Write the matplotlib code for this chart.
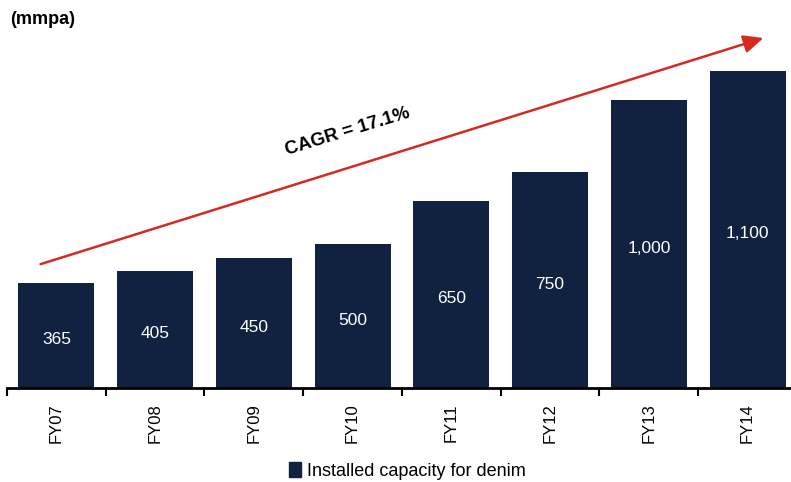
import matplotlib.pyplot as plt
from matplotlib.patches import Patch
import numpy as np

plt.rcParams['font.family'] = ['Liberation Sans', 'DejaVu Sans']

years = ['FY07', 'FY08', 'FY09', 'FY10', 'FY11', 'FY12', 'FY13', 'FY14']
capacity = [365, 405, 450, 500, 650, 750, 1000, 1100]
value_labels = ['365', '405', '450', '500', '650', '750', '1,000', '1,100']

bar_color = '#112140'
arrow_color = '#d42a20'

fig = plt.figure(figsize=(7.91, 4.82), dpi=100)
# axes runs past the right edge so the baseline reaches the border
ax = fig.add_axes([7 / 791, 94 / 482, 790 / 791, 386 / 482])

x = np.arange(len(years))
ax.bar(x, capacity, width=0.77, color=bar_color, zorder=2)
for xi, v, lab in zip(x, capacity, value_labels):
    ax.text(xi, v / 2 - 15, lab, color='white', ha='center', va='center', fontsize=12.5)

ax.set_xlim(-0.5, 7.5)
ax.set_ylim(0, 1340)

for s in ['top', 'right', 'left']:
    ax.spines[s].set_visible(False)
ax.spines['bottom'].set_linewidth(2)
ax.set_yticks([])
ax.set_xticks(x)
ax.set_xticklabels(years, rotation=90, fontsize=12)
ax.tick_params(axis='x', which='major', length=0, pad=11)
ax.set_xticks(np.arange(-0.5, 7.5, 1), minor=True)
ax.tick_params(axis='x', which='minor', length=6, width=1.5, direction='out')

# growth arrow
ax.annotate('', xy=(7.16, 1215), xytext=(-0.16, 430),
            arrowprops=dict(arrowstyle='-|>,head_length=1.2,head_width=0.55',
                            color=arrow_color, lw=1.8, shrinkA=0, shrinkB=0),
            annotation_clip=False)
ax.text(2.95, 890, 'CAGR = 17.1%', rotation=17, ha='center', va='center',
        fontsize=13.5, fontweight='bold')

fig.text(10 / 791, 1 - 20 / 482, '(mmpa)', fontsize=13, fontweight='bold', va='center')

fig.legend(handles=[Patch(color=bar_color, label='Installed capacity for denim')],
           loc='center', bbox_to_anchor=(407 / 791, 1 - 471 / 482), frameon=False,
           fontsize=13, handlelength=0.7, handleheight=0.9, handletextpad=0.3)

fig.savefig('out.png', dpi=100)
